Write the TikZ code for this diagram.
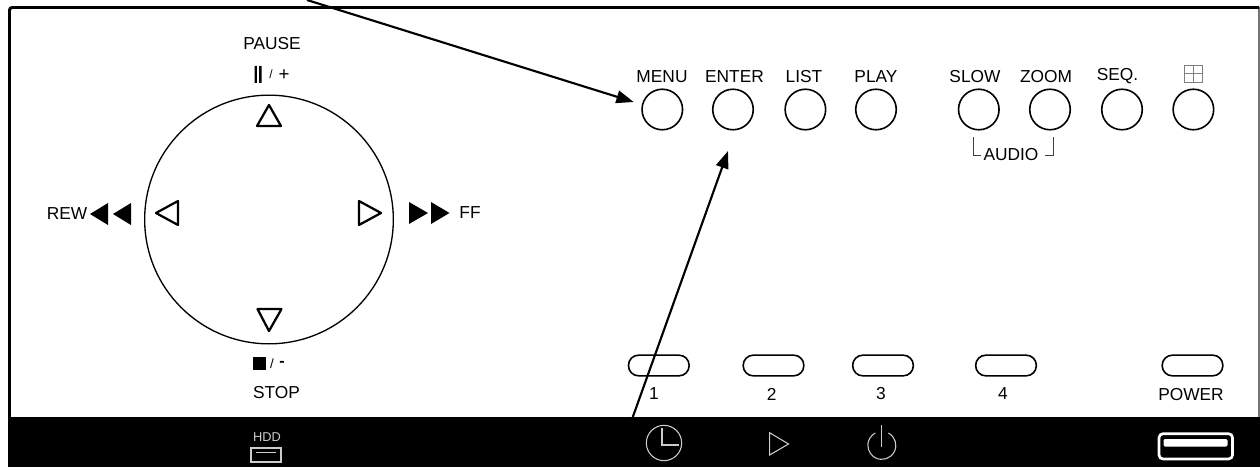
\documentclass[tikz,border=0pt]{standalone}
\usepackage{fontspec}
\setmainfont{Liberation Sans}
\usetikzlibrary{arrows.meta,shapes.geometric}
\definecolor{icon}{gray}{0.8}
\tikzset{
 lbl/.style={inner sep=0pt,font=\fontsize{13pt}{14pt}\selectfont,text=black},
 roundbtn/.style={draw=black,line width=1.2pt,ellipse,minimum width=30.4pt,minimum height=30.4pt,inner sep=0pt},
 pill/.style={draw=black,line width=1.2pt,rounded corners=7.6pt,minimum width=45.5pt,minimum height=15.5pt,inner sep=0pt},
 tri/.style={draw=black,line width=1.7pt,line join=round,fill=white},
 callout/.style={draw=black,line width=1.6pt,-{Triangle[length=13pt,width=9.5pt]}},
 bandicon/.style={draw=icon,line width=0.8pt},
}
\begin{document}
\begin{tikzpicture}[x=0.75pt,y=-0.75pt]
\useasboundingbox (0,0) rectangle (1260,467);
% frame and band
\draw[black!55,line width=0.8pt] (1259,7) -- (1259,418);
\draw[black,line width=2.2pt,rounded corners=2pt] (9.5,468) -- (9.5,7.5) -- (1259,7.5);
\fill[black] (8,417) rectangle (1260,467);
% joystick
\node[draw=black,line width=1pt,circle,minimum size=186.5pt,inner sep=0pt] (wheel) at (269,219.5) {};
\draw[tri] (269,105) -- (281,126) -- (257,126) -- cycle;
\draw[tri] (269,331) -- (281.5,309) -- (257.5,309) -- cycle;
\draw[tri] (156,213) -- (178,201) -- (178,225) -- cycle;
\draw[tri] (381,213) -- (359,201) -- (359,225) -- cycle;
\node[lbl] (pause) at (272,44) {PAUSE};
\fill[black] (254.5,66) rectangle (256.8,83) (259.2,66) rectangle (261.5,83);
\node[lbl,font=\fontsize{9pt}{9pt}\selectfont] (pslash) at (271,74) {/};
\node[lbl,font=\fontsize{14pt}{14pt}\selectfont] (plus) at (284,75) {+};
\fill[black] (253,357) rectangle (266,370);
\node[lbl,font=\fontsize{10pt}{10pt}\selectfont] (sslash) at (272,364) {/};
\node[lbl,font=\fontsize{12pt}{12pt}\selectfont\bfseries] (minus) at (282,364) {-};
\node[lbl] (stop) at (276.5,393) {STOP};
\node[lbl] (rew) at (67,214) {REW};
\fill[black] (90,214) -- (108,203) -- (108,225) -- cycle;
\fill[black] (113,214) -- (131,203) -- (131,225) -- cycle;
\fill[black] (409,202) -- (428,213) -- (409,224) -- cycle;
\fill[black] (431,202) -- (449.5,213) -- (431,224) -- cycle;
\node[lbl] (ff) at (470,212.5) {FF};
% round buttons
\foreach \n/\x in {bmenu/662.3,benter/733,blist/805.4,bplay/876,bslow/978.8,bzoom/1050,bseq/1122,bgrid/1193.4}
  \node[roundbtn] (\n) at (\x,109.5) {};
\node[lbl] (tmenu) at (662,77) {MENU};
\node[lbl] (tenter) at (734.5,77) {ENTER};
\node[lbl] (tlist) at (804,76.5) {LIST};
\node[lbl] (tplay) at (876,76.5) {PLAY};
\node[lbl] (tslow) at (975,76.5) {SLOW};
\node[lbl] (tzoom) at (1046,76.5) {ZOOM};
\node[lbl] (tseq) at (1117.5,76.5) {SEQ.};
\draw[gray,line width=0.5pt] (1184.7,65) rectangle (1202.7,82.7) (1193.7,65) -- (1193.7,82.7) (1184.7,73.8) -- (1202.7,73.8);
\node[lbl] (taudio) at (1011,154.5) {AUDIO};
\draw[black!75,line width=0.5pt] (973.7,137) -- (973.7,155.5) -- (981,155.5);
\draw[black!75,line width=0.5pt] (1053.7,137) -- (1053.7,155.5) -- (1045,155.5);
% pills
\foreach \n/\x in {p1/658.8,p2/773.5,p3/883,p4/1006,ppower/1192.5}
  \node[pill] (\n) at (\x,365.5) {};
\node[lbl] (t1) at (654,394) {1};
\node[lbl] (t2) at (771.7,394) {2};
\node[lbl] (t3) at (881,394) {3};
\node[lbl] (t4) at (1003,394) {4};
\node[lbl] (tpower) at (1191,395) {POWER};
% band icons
\node[text=icon,inner sep=0pt,font=\fontsize{9.6pt}{10pt}\selectfont] (thdd) at (267,437) {HDD};
\draw[icon,line width=0.8pt] (251,448) rectangle (281,462);
\draw[icon,line width=0.8pt] (256,452.5) -- (276,452.5);
\node[bandicon,ellipse,minimum width=26.5pt,minimum height=26.5pt,inner sep=0pt] (clock) at (664,443) {};
\draw[bandicon] (662,428) -- (662,445) -- (679,445);
\draw[bandicon,line join=miter] (769.6,432.7) -- (788.5,444) -- (769.6,455) -- cycle;
\draw[bandicon] (888.4,433) arc[start angle=-62,end angle=242,radius=14];
\draw[bandicon] (881.8,425) -- (881.8,447);
\draw[white,line width=2pt,rounded corners=3pt] (1159,433.7) rectangle (1232.5,459);
\fill[white,rounded corners=1pt] (1163.5,439) rectangle (1227.5,446.5);
% callouts
\coordinate (a1s) at (307,0);
\coordinate (a1e) at (633.7,102);
\coordinate (a2s) at (632.8,417);
\coordinate (a2e) at (728,151);
\draw[callout] (a1s) -- (a1e);
\draw[callout] (a2s) -- (a2e);
\end{tikzpicture}
\end{document}
